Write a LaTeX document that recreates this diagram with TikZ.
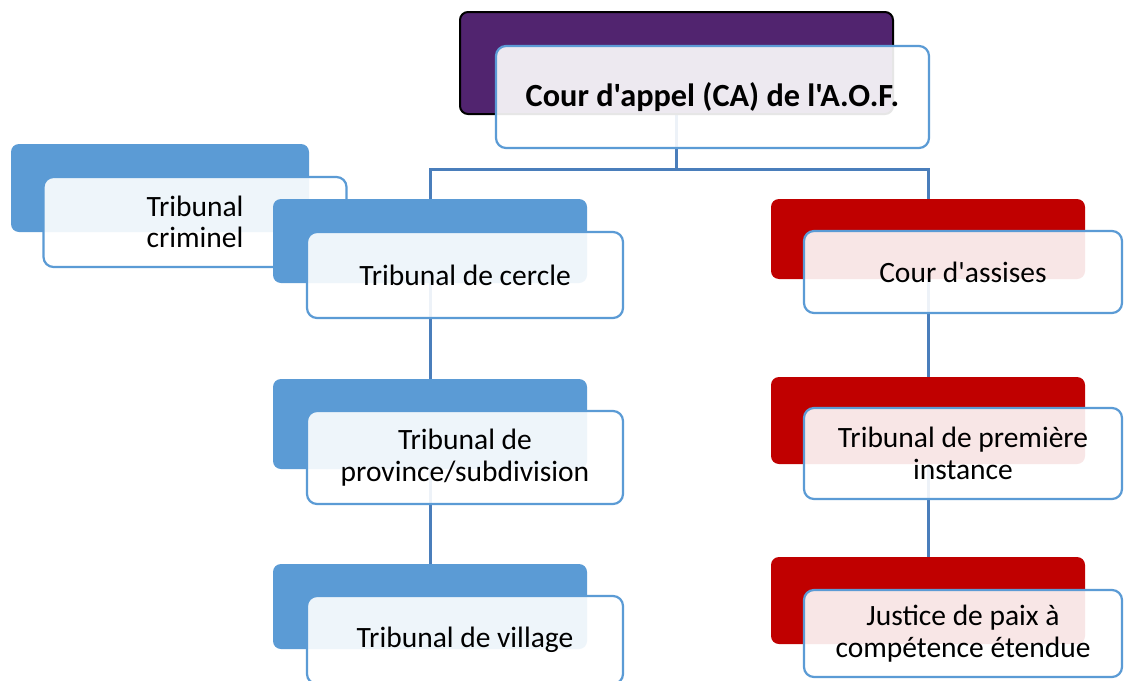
\documentclass[tikz,border=0pt]{standalone}
\usepackage{fontspec}
\setmainfont{Carlito}[Ligatures=TeXOff]
\definecolor{purpleback}{HTML}{51246F}
\definecolor{blueback}{HTML}{5B9BD5}
\definecolor{redback}{HTML}{C00000}
\definecolor{frontline}{HTML}{5B9BD5}
\definecolor{connline}{HTML}{4A7EBB}
\pgfdeclarelayer{bg}
\pgfsetlayers{bg,main}
\tikzset{
  backbox/.style={rectangle, rounded corners=8pt, inner sep=0pt, outer sep=0pt},
  bpurple/.style={backbox, fill=purpleback, draw=black, line width=2pt},
  bblue/.style={backbox, fill=blueback},
  bred/.style={backbox, fill=redback},
  frontbox/.style={rectangle, rounded corners=10pt, inner sep=0pt, outer sep=0pt,
    draw=frontline, line width=2.2pt, fill=white, fill opacity=0.9, text opacity=1,
    align=center, font=\fontsize{29.5}{31.5}\selectfont, text=black},
  conn/.style={draw=connline, line width=3pt}
}
\begin{document}
\begin{tikzpicture}[x=1pt,y=-1pt]
\begin{pgfonlayer}{bg}
\fill[white] (0,0) rectangle (1143,680);
\end{pgfonlayer}
\useasboundingbox (0,0) rectangle (1143,680);
\coordinate (bus) at (0,169);
% Tribunal criminel
\node[bblue, minimum width=298pt, minimum height=88pt] (crimb) at (160,188) {};
\node[frontbox, minimum width=303pt, minimum height=90pt] (crimf) at (195,222) {Tribunal\\criminel};
% back boxes
\node[bpurple, minimum width=433pt, minimum height=102pt] (cab) at (676.5,63) {};
\node[bblue, minimum width=314pt, minimum height=84pt] (cercleb) at (430,241) {};
\node[bblue, minimum width=314pt, minimum height=90pt] (provb) at (430,424) {};
\node[bblue, minimum width=314pt, minimum height=85pt] (villb) at (430,606.5) {};
\node[bred, minimum width=314pt, minimum height=80pt] (assb) at (928,239) {};
\node[bred, minimum width=314pt, minimum height=87pt] (premb) at (928,420.5) {};
\node[bred, minimum width=314pt, minimum height=87pt] (justb) at (928,600.5) {};
% connectors (behind everything)
\begin{pgfonlayer}{bg}
\draw[conn] (cab.south) -- (cab.south |- bus);
\draw[conn] (cercleb.north) -- (cercleb.north |- bus) -- (assb.north |- bus) -- (assb.north);
\draw[conn] (cercleb.south) -- (provb.north);
\draw[conn] (provb.south) -- (villb.north);
\draw[conn] (assb.south) -- (premb.north);
\draw[conn] (premb.south) -- (justb.north);
\end{pgfonlayer}
% front boxes
\node[frontbox, minimum width=433pt, minimum height=102pt, font=\fontsize{32.3}{36}\selectfont\bfseries] (caf) at (712.5,97) {Cour d'appel (CA) de l'A.O.F.};
\node[frontbox, minimum width=316pt, minimum height=86pt] (cerclef) at (465,275) {Tribunal de cercle};
\node[frontbox, minimum width=316pt, minimum height=93pt] (provf) at (465,457.5) {Tribunal de\\province/subdivision};
\node[frontbox, minimum width=316pt, minimum height=88pt] (villf) at (465,640) {Tribunal de village};
\node[frontbox, minimum width=318pt, minimum height=82pt] (assf) at (963,272) {Cour d'assises};
\node[frontbox, minimum width=318pt, minimum height=91pt] (premf) at (963,453.5) {Tribunal de première\\instance};
\node[frontbox, minimum width=318pt, minimum height=87pt] (justf) at (963,633.5) {Justice de paix à\\compétence étendue};
\end{tikzpicture}
\end{document}
